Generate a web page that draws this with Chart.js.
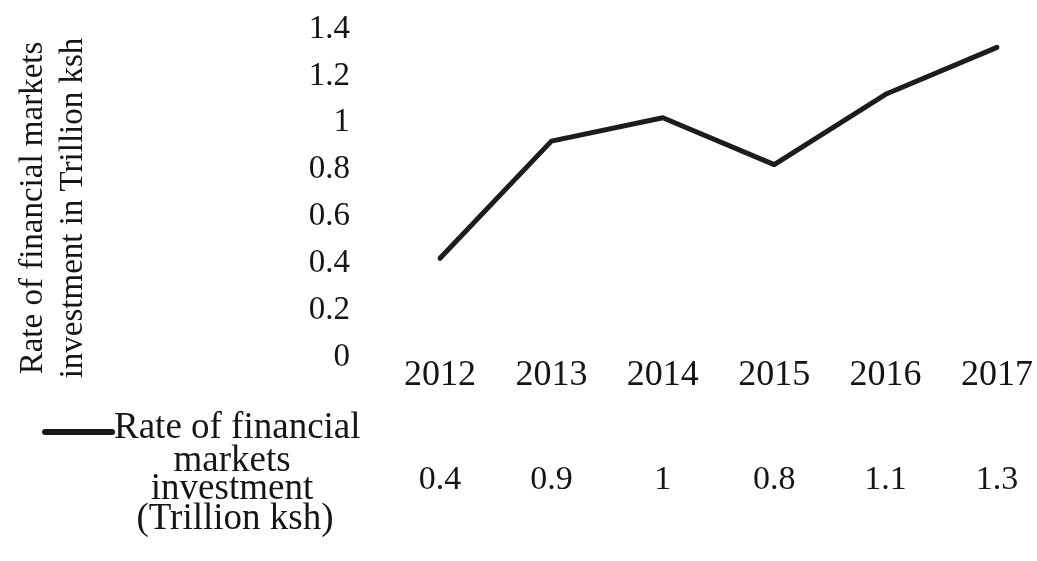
<!DOCTYPE html>
<html>
<head>
<meta charset="utf-8">
<script src="https://cdn.jsdelivr.net/npm/chart.js@4/dist/chart.umd.min.js"></script>
<style>
  html, body { margin: 0; padding: 0; background: #fff; }
  #wrap { width: 1037px; height: 561px; }
</style>
</head>
<body>
<div id="wrap"><canvas id="chart" width="1037" height="561"></canvas></div>
<script>
// data
const years = ['2012', '2013', '2014', '2015', '2016', '2017'];
const investment = [0.4, 0.9, 1, 0.8, 1.1, 1.3];
const yTitle = ['Rate of financial markets', 'investment in Trillion ksh'];
const seriesName = ['Rate of financial', 'markets', 'investment', '(Trillion ksh)'];

const serif = '"Liberation Serif", "Times New Roman", serif';
const ink = '#151515';

// y title, legend key and the value row under the axis
const tablePlugin = {
    id: 'tablePlugin',
    afterDraw(chart) {
        const ctx = chart.ctx;
        const xs = chart.scales.x;
        ctx.save();
        ctx.fillStyle = ink;

        // rotated axis title, two lines
        ctx.font = '33px ' + serif;
        ctx.textAlign = 'center';
        ctx.textBaseline = 'alphabetic';
        const baselines = [42, 82];
        yTitle.forEach((t, i) => {
            ctx.save();
            ctx.translate(baselines[i], 208);
            ctx.rotate(-Math.PI / 2);
            ctx.fillText(t, 0, 0);
            ctx.restore();
        });

        // legend key
        ctx.strokeStyle = '#1a1a1a';
        ctx.lineWidth = 6;
        ctx.lineCap = 'round';
        ctx.beginPath();
        ctx.moveTo(45, 432);
        ctx.lineTo(112, 432);
        ctx.stroke();

        ctx.font = '37px ' + serif;
        ctx.textBaseline = 'middle';
        ctx.textAlign = 'left';
        ctx.fillText(seriesName[0], 114, 428);
        ctx.textAlign = 'center';
        ctx.fillText(seriesName[1], 232, 461);
        ctx.fillText(seriesName[2], 232, 489);
        ctx.fillText(seriesName[3], 235, 519);

        // values row
        ctx.font = '34px ' + serif;
        investment.forEach((v, i) => {
            ctx.fillText(String(v), xs.getPixelForValue(i), 480);
        });
        ctx.restore();
    }
};

new Chart(document.getElementById('chart'), {
    type: 'line',
    data: {
        labels: years,
        datasets: [{
            label: seriesName.join(' '),
            data: investment,
            borderColor: '#1c1c1c',
            borderWidth: 5,
            borderCapStyle: 'round',
            borderJoinStyle: 'round',
            pointRadius: 0,
            tension: 0,
            fill: false
        }]
    },
    options: {
        responsive: false,
        animation: false,
        layout: { padding: { top: 24, right: 40, bottom: 0, left: 0 } },
        plugins: { legend: { display: false }, tooltip: { enabled: false } },
        scales: {
            x: {
                offset: false,
                grid: { display: false, drawTicks: false },
                border: { display: false },
                ticks: { font: { family: serif, size: 36 }, color: ink, padding: 2, maxRotation: 0 },
                afterFit: s => { s.height = 209; }
            },
            y: {
                min: 0,
                max: 1.4,
                grid: { display: false, drawTicks: false },
                border: { display: false },
                ticks: {
                    stepSize: 0.2,
                    autoSkip: false,
                    font: { family: serif, size: 33, lineHeight: '10px' },
                    color: ink,
                    padding: 90,
                    // blank first line nudges each label a few px down, as in the source
                    callback: v => ['', String(+v.toFixed(1))]
                },
                afterFit: s => {
                    s.width = 440;
                    // tick padding is only meant to push labels left, not shrink the plot
                    s.paddingTop = 10;
                    s.paddingBottom = 10;
                }
            }
        }
    },
    plugins: [tablePlugin]
});
</script>
</body>
</html>
